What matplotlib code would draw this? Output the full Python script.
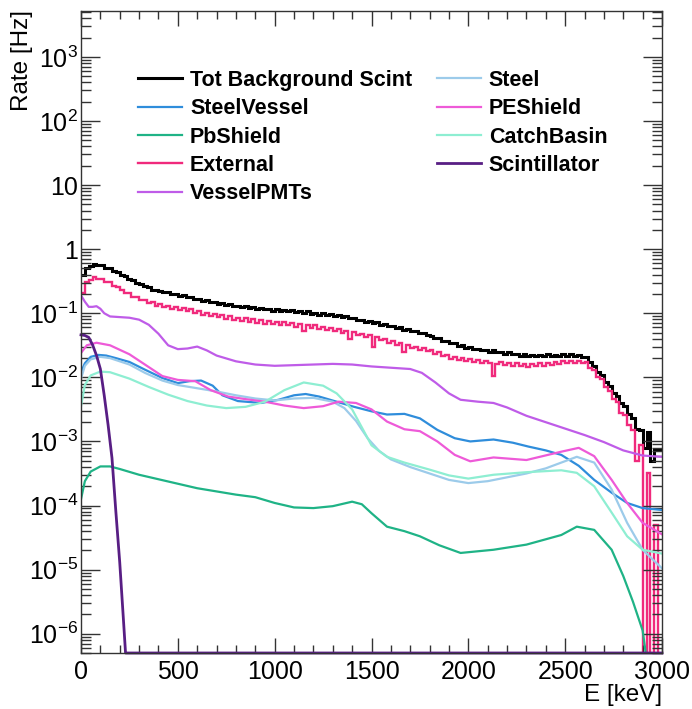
import numpy as np
import matplotlib
matplotlib.use("Agg")
import matplotlib.pyplot as plt
from matplotlib.ticker import FixedLocator, FuncFormatter, MultipleLocator, LogLocator, NullFormatter

plt.rcParams['font.family'] = ['Liberation Sans', 'DejaVu Sans']
plt.rcParams['mathtext.fontset'] = 'custom'
plt.rcParams['mathtext.rm'] = 'Liberation Sans'
plt.rcParams['mathtext.it'] = 'Liberation Sans:italic'
plt.rcParams['mathtext.bf'] = 'Liberation Sans:bold'

# ---------------- data ----------------
bin_width = 20  # keV
e_max = 3000

# Tot Background Scint histogram, log10(rate)*100 per 20 keV bin
tot_log100 = [
    -41, -29, -26, -23, -25, -25, -29, -29, -34, -35,
    -40, -42, -47, -48, -53, -54, -58, -59, -63, -63,
    -65, -67, -67, -70, -70, -73, -72, -75, -75, -78,
    -78, -81, -80, -83, -82, -85, -84, -87, -86, -89,
    -88, -91, -89, -92, -90, -93, -92, -94, -93, -96,
    -94, -96, -95, -97, -95, -98, -97, -99, -97, -101,
    -99, -102, -100, -103, -101, -104, -103, -106, -105, -108,
    -108, -111, -110, -113, -112, -115, -114, -118, -117, -120,
    -120, -123, -122, -126, -125, -128, -128, -131, -131, -134,
    -135, -139, -139, -143, -143, -147, -147, -151, -150, -154,
    -153, -156, -155, -158, -157, -160, -158, -161, -160, -163,
    -161, -164, -163, -166, -164, -167, -165, -167, -165, -167,
    -164, -167, -165, -166, -163, -166, -164, -167, -165, -168,
    -168, -176, -182, -192, -197, -207, -213, -224, -229, -240,
    -244, -257, -263, -280, -282, -310, -285, -330, -313, -314,
]

# External histogram, log10(rate)*100 per bin (None = empty bin)
ext_log100 = [
    -68, -51, -48, -44, -46, -46, -51, -52, -58, -59,
    -63, -69, -69, -75, -75, -80, -79, -84, -83, -88,
    -86, -91, -88, -93, -90, -95, -92, -97, -94, -100,
    -97, -102, -99, -104, -101, -106, -103, -109, -105, -110,
    -107, -112, -108, -113, -109, -115, -111, -116, -112, -117,
    -113, -118, -114, -119, -115, -121, -117, -128, -118, -123,
    -119, -124, -121, -126, -123, -128, -125, -131, -127, -140,
    -129, -134, -132, -137, -134, -152, -137, -142, -140, -146,
    -143, -149, -146, -160, -149, -154, -152, -157, -154, -159,
    -157, -163, -161, -167, -165, -171, -168, -173, -170, -175,
    -172, -176, -173, -177, -174, -178, -198, -179, -176, -181,
    -177, -182, -178, -183, -179, -184, -179, -183, -178, -182,
    -177, -180, -176, -179, -175, -178, -174, -178, -174, -178,
    -176, -185, -188, -199, -202, -215, -221, -234, -239, -256,
    -258, -275, -282, -330, -305, None, -350, None, -430, None,
]

# Smooth components: energy (keV) and log10(rate [Hz])
sv_E = [0, 20, 50, 90, 130, 180, 250, 330, 420, 500, 560, 620, 680, 730, 810, 930, 1020,
        1100, 1160, 1230, 1320, 1410, 1500, 1580, 1670, 1750, 1840, 1930, 2010, 2130, 2230,
        2310, 2400, 2480, 2570, 2650, 2740, 2820, 2900, 3000]
sv_log = [-1.92, -1.78, -1.68, -1.65, -1.66, -1.70, -1.76, -1.88, -2.01, -2.09, -2.06, -2.05,
          -2.13, -2.28, -2.37, -2.40, -2.35, -2.28, -2.26, -2.30, -2.38, -2.46, -2.53, -2.58,
          -2.57, -2.64, -2.82, -2.95, -3.00, -2.97, -3.02, -3.08, -3.14, -3.21, -3.38, -3.60,
          -3.80, -3.96, -4.04, -4.07]

steel_E = [0, 20, 50, 100, 150, 250, 330, 420, 500, 600, 700, 800, 900, 1000, 1100, 1200,
           1300, 1360, 1420, 1480, 1540, 1600, 1700, 1800, 1900, 2000, 2100, 2200, 2300, 2400,
           2480, 2560, 2650, 2740, 2820, 2900, 3000]
steel_log = [-2.02, -1.82, -1.72, -1.68, -1.70, -1.80, -1.93, -2.05, -2.12, -2.17, -2.22, -2.28,
             -2.33, -2.36, -2.33, -2.32, -2.38, -2.48, -2.68, -2.95, -3.15, -3.28, -3.40, -3.50,
             -3.60, -3.65, -3.62, -3.56, -3.50, -3.42, -3.33, -3.24, -3.33, -3.75, -4.27, -4.69,
             -4.98]

cb_E = [0, 20, 50, 100, 150, 250, 350, 450, 550, 650, 750, 850, 950, 1050, 1150, 1250, 1320,
        1400, 1450, 1500, 1580, 1670, 1800, 1900, 2000, 2130, 2300, 2480, 2560, 2650, 2740,
        2820, 2900, 3000]
cb_log = [-2.45, -2.12, -1.97, -1.91, -1.92, -2.02, -2.15, -2.27, -2.37, -2.44, -2.48, -2.46,
          -2.38, -2.20, -2.08, -2.13, -2.25, -2.50, -2.78, -3.06, -3.24, -3.33, -3.44, -3.53,
          -3.58, -3.52, -3.48, -3.45, -3.49, -3.70, -4.11, -4.48, -4.69, -4.75]

pe_E = [0, 30, 80, 150, 250, 330, 420, 500, 590, 670, 760, 850, 950, 1050, 1150, 1250, 1330,
        1420, 1500, 1580, 1670, 1750, 1840, 1930, 2010, 2130, 2300, 2480, 2570, 2650, 2740,
        2820, 2900, 3000]
pe_log = [-1.62, -1.50, -1.46, -1.50, -1.64, -1.80, -1.98, -2.04, -2.06, -2.20, -2.30, -2.34,
          -2.38, -2.44, -2.48, -2.45, -2.38, -2.40, -2.50, -2.69, -2.81, -2.84, -3.00, -3.21,
          -3.31, -3.25, -3.29, -3.16, -3.10, -3.23, -3.60, -3.96, -4.27, -4.45]

vp_E = [0, 20, 40, 60, 80, 100, 120, 150, 200, 250, 300, 350, 400, 450, 500, 550, 600, 650,
        700, 800, 900, 1000, 1100, 1200, 1300, 1400, 1500, 1600, 1700, 1760, 1830, 1900, 1960,
        2050, 2130, 2200, 2300, 2400, 2500, 2600, 2700, 2800, 2900, 3000]
vp_log = [-0.72, -0.82, -0.90, -0.90, -0.89, -0.93, -1.00, -1.05, -1.06, -1.07, -1.10, -1.18,
          -1.32, -1.50, -1.56, -1.55, -1.52, -1.58, -1.66, -1.75, -1.80, -1.82, -1.81, -1.80,
          -1.79, -1.80, -1.83, -1.85, -1.87, -1.93, -2.08, -2.25, -2.35, -2.38, -2.40, -2.47,
          -2.60, -2.70, -2.80, -2.90, -3.01, -3.14, -3.22, -3.24]

pb_E = [0, 20, 50, 100, 150, 200, 300, 400, 500, 600, 700, 800, 900, 1000, 1100, 1200, 1300,
        1400, 1450, 1500, 1580, 1670, 1750, 1850, 1960, 2130, 2300, 2480, 2560, 2650, 2740,
        2800, 2850, 2900, 2930]
pb_log = [-3.90, -3.62, -3.47, -3.39, -3.39, -3.43, -3.52, -3.59, -3.66, -3.73, -3.78, -3.83,
          -3.87, -3.96, -4.03, -4.04, -4.01, -3.94, -3.98, -4.12, -4.33, -4.40, -4.48, -4.62,
          -4.74, -4.69, -4.61, -4.46, -4.33, -4.38, -4.69, -5.10, -5.50, -5.95, -6.60]

sc_E = [0, 20, 40, 60, 80, 100, 120, 140, 160, 180, 200, 220, 230, 240, 3000]
sc_val = [0.046, 0.045, 0.042, 0.032, 0.022, 0.0135, 0.0052, 0.0018, 5.5e-4, 8e-5, 1.3e-5,
          1.5e-6, 5e-7, 0.0, 0.0]

labels = ["Tot Background Scint", "SteelVessel", "PbShield", "External", "VesselPMTs",
          "Steel", "PEShield", "CatchBasin", "Scintillator"]
colors = {"Tot Background Scint": "#000000", "SteelVessel": "#2f8ddb", "PbShield": "#1fb386",
          "External": "#f02a7c", "VesselPMTs": "#bf5ce8", "Steel": "#9ccbea",
          "PEShield": "#ee5ad8", "CatchBasin": "#8eeed2", "Scintillator": "#581e84"}

YMIN, YMAX = 5e-7, 5.2e3

# ---------------- figure ----------------
fig = plt.figure(figsize=(6.92, 7.09), dpi=100)
ax = fig.add_axes([81 / 692, 56 / 709, 581 / 692, 642 / 709])
ax.set_yscale('log')

edges = np.arange(0, e_max + 1, bin_width)
tot = 10 ** (np.array(tot_log100, dtype=float) / 100)
ext = np.array([10 ** (v / 100) if v is not None else 0.0 for v in ext_log100])

handles = {}
lw = 1.6
smooth = [("SteelVessel", sv_E, sv_log), ("PbShield", pb_E, pb_log),
          ("VesselPMTs", vp_E, vp_log), ("Steel", steel_E, steel_log),
          ("PEShield", pe_E, pe_log), ("CatchBasin", cb_E, cb_log)]
for name, E, lg in smooth:
    h, = ax.plot(E, 10 ** np.array(lg), color=colors[name], lw=lw, label=name)
    handles[name] = h

ax.stairs(tot, edges, baseline=None, color=colors["Tot Background Scint"], lw=2.2)
handles["Tot Background Scint"], = ax.plot([], [], color=colors["Tot Background Scint"], lw=2.2)
ax.stairs(np.where(ext > 0, ext, YMIN * 1e-3), edges, baseline=None, color=colors["External"], lw=1.7)
handles["External"], = ax.plot([], [], color=colors["External"], lw=1.7)

sc = np.array(sc_val)
h, = ax.plot(sc_E, np.where(sc > 0, sc, YMIN), color=colors["Scintillator"], lw=2.0, clip_on=False)
handles["Scintillator"] = h

ax.set_xlim(0, e_max)
ax.set_ylim(YMIN, YMAX)

# ticks (ROOT-like)
ax.xaxis.set_major_locator(MultipleLocator(500))
ax.xaxis.set_minor_locator(MultipleLocator(100))
ax.yaxis.set_major_locator(FixedLocator([10.0 ** e for e in range(-6, 4)]))
ax.yaxis.set_minor_locator(LogLocator(base=10, subs=np.arange(2, 10), numticks=100))
ax.yaxis.set_minor_formatter(NullFormatter())


def yfmt(v, pos):
    e = int(round(np.log10(v)))
    if e == 0:
        return '1'
    if e == 1:
        return '10'
    return r'$\mathregular{10^{%d}}$' % e


ax.yaxis.set_major_formatter(FuncFormatter(yfmt))
ax.tick_params(which='both', direction='in', top=True, right=True, labelsize=18,
               color='#333333', width=1)
ax.tick_params(axis='x', which='major', length=11, pad=5)
ax.tick_params(axis='x', which='minor', length=5.5)
ax.tick_params(axis='y', which='major', length=14, pad=2)
ax.tick_params(axis='y', which='minor', length=7)
for s in ax.spines.values():
    s.set_linewidth(1.0)
    s.set_color('#333333')

fig.text(22 / 692, 1 - 10 / 709, 'Rate [Hz]', rotation=90, ha='center', va='top', fontsize=17.5)
fig.text(662 / 692, 1 - 695 / 709, 'E [keV]', ha='right', va='center', fontsize=17.5)

ax.legend([handles[n] for n in labels], labels, ncol=2, loc='upper left',
          bbox_to_anchor=(138 / 692, 1 - 70 / 709), bbox_transform=fig.transFigure,
          frameon=False, prop={'weight': 'bold', 'size': 15.5}, handlelength=2.05,
          handletextpad=0.37, columnspacing=1.14, labelspacing=0.34, borderpad=0,
          borderaxespad=0)

fig.savefig('out.png', dpi=100)
